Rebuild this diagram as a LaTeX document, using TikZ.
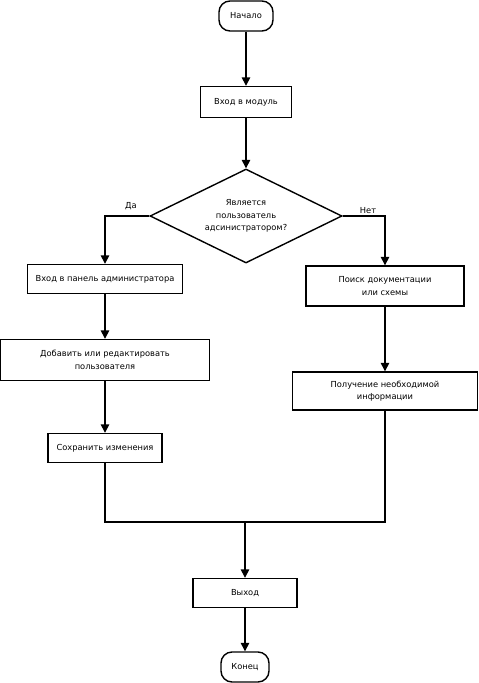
\documentclass[tikz,border=0pt]{standalone}
\usepackage{fontspec}
\setmainfont{DejaVu Sans}
\usetikzlibrary{shapes.geometric, arrows.meta}

\begin{document}
\begin{tikzpicture}[x=1pt, y=-1pt, line width=1.4pt,
		block/.style={draw, rectangle, align=center, inner sep=2pt, font=\fontsize{8.3}{12.5}\selectfont},
		term/.style={draw, rectangle, rounded corners=11pt, inner sep=2pt, font=\fontsize{8.3}{12.5}\selectfont},
		decision/.style={draw, diamond, aspect=2, align=center, inner sep=0pt, font=\fontsize{8.3}{12.5}\selectfont},
		flow/.style={-{Triangle[width=8.5pt, length=8.5pt]}}]
		\useasboundingbox (0, 0) rectangle (479, 683);

		\node[term] (Start) at (246, 16) [minimum width=54pt, minimum height=30pt] {Начало};
		\node[block] (Login) at (246, 102) [minimum width=91pt, minimum height=31pt] {Вход в модуль};
		\node[decision] (Check) at (246, 216) [minimum width=192pt, minimum height=94pt] {Является\\пользователь\\адсинистратором?};

		\node[block] (AdminPanel) at (105, 279) [minimum width=155pt, minimum height=29pt] {Вход в панель администратора};
		\node[block] (EditUser)   at (105, 360) [minimum width=209pt, minimum height=41pt] {Добавить или редактировать\\пользователя};
		\node[block] (Save)       at (105, 448) [minimum width=114pt, minimum height=29pt] {Сохранить изменения};

		\node[block] (Search)  at (385, 286) [minimum width=158pt, minimum height=40pt] {Поиск документации\\или схемы};
		\node[block] (GetInfo) at (385, 391) [minimum width=185pt, minimum height=38pt] {Получение необходимой\\информации};

		\node[block] (Exit) at (245, 593) [minimum width=104pt, minimum height=29pt] {Выход};
		\node[term]  (End)  at (245, 667) [minimum width=48pt, minimum height=30pt] {Конец};

		\coordinate (Join) at (245, 522);

		\draw[flow] (Start) -- (Login);
		\draw[flow] (Login) -- (Check);
		\draw[flow] (Check.west) -| (AdminPanel.north);
		\draw[flow] (Check.east) -| (Search.north);
		\draw[flow] (AdminPanel) -- (EditUser);
		\draw[flow] (EditUser) -- (Save);
		\draw[flow] (Search) -- (GetInfo);
		\draw (Save.south) |- (Join) -| (GetInfo.south);
		\draw[flow] (Join) -- (Exit);
		\draw[flow] (Exit) -- (End);

		\node[font=\fontsize{8.3}{10}\selectfont] (Yes) at (131, 206) {Да};
		\node[font=\fontsize{8.3}{10}\selectfont] (No)  at (368, 211) {Нет};
	\end{tikzpicture}
\end{document}
